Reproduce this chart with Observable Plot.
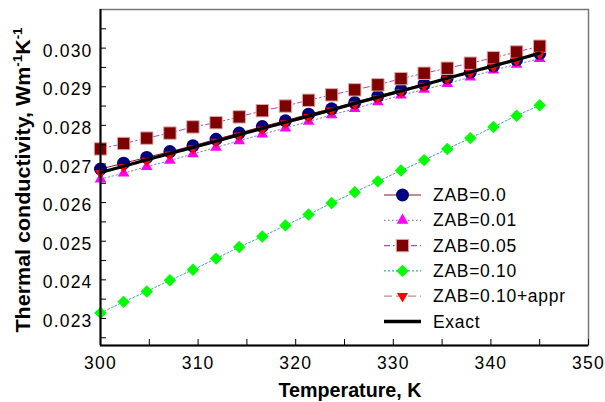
<!DOCTYPE html>
<html><head><meta charset="utf-8">
<script src="https://cdn.jsdelivr.net/npm/d3@7"></script>
<script src="https://cdn.jsdelivr.net/npm/@observablehq/plot@0.6"></script>
<style>
body{margin:0;background:#fff}
#chart{position:relative;width:605px;height:402px}
</style>
</head><body><div id="chart"></div>
<script>
// ---- data ----
const temperature = [300, 302.37, 304.74, 307.11, 309.47, 311.84, 314.21, 316.58, 318.95, 321.32,
                     323.68, 326.05, 328.42, 330.79, 333.16, 335.53, 337.89, 340.26, 342.63, 345];
const zab000 = [0.02687, 0.02702, 0.02717, 0.02732, 0.02747, 0.02764, 0.02780, 0.02797, 0.02812, 0.02829,
                0.02843, 0.02859, 0.02876, 0.02892, 0.02907, 0.02923, 0.02938, 0.02954, 0.02970, 0.02986];
const zab001 = [0.02661, 0.02676, 0.02693, 0.02709, 0.02726, 0.02743, 0.02760, 0.02777, 0.02793, 0.02810,
                0.02827, 0.02843, 0.02861, 0.02878, 0.02893, 0.02908, 0.02925, 0.02943, 0.02958, 0.02973];
const zab005 = [0.02739, 0.02753, 0.02767, 0.02780, 0.02796, 0.02807, 0.02822, 0.02838, 0.02850, 0.02865,
                0.02879, 0.02892, 0.02905, 0.02921, 0.02935, 0.02948, 0.02961, 0.02975, 0.02990, 0.03005];
const zab010 = [0.02314, 0.02343, 0.02370, 0.02399, 0.02426, 0.02455, 0.02485, 0.02512, 0.02541, 0.02569,
                0.02599, 0.02627, 0.02655, 0.02683, 0.02710, 0.02739, 0.02767, 0.02796, 0.02825, 0.02852];
const zab010appr = [0.02676, 0.02692, 0.02708, 0.02724, 0.02740, 0.02757, 0.02773, 0.02789, 0.02805, 0.02821,
                    0.02838, 0.02854, 0.02870, 0.02886, 0.02902, 0.02919, 0.02935, 0.02951, 0.02967, 0.02984];
const exact = [0.02678, 0.02694, 0.02711, 0.02727, 0.02743, 0.02759, 0.02776, 0.02792, 0.02808, 0.02824,
               0.02840, 0.02857, 0.02873, 0.02889, 0.02905, 0.02922, 0.02938, 0.02954, 0.02970, 0.02987];
const seriesNames = ["ZAB=0.0", "ZAB=0.01", "ZAB=0.05", "ZAB=0.10", "ZAB=0.10+appr", "Exact"];
const xTickLabels = [300, 310, 320, 330, 340, 350];
const xMinorTicks = [300, 305, 310, 315, 320, 325, 330, 335, 340, 345, 350];
const yTickLabels = [0.023, 0.024, 0.025, 0.026, 0.027, 0.028, 0.029, 0.030];
const yMinorTicks = [0.0225, 0.023, 0.0235, 0.024, 0.0245, 0.025, 0.0255, 0.026, 0.0265, 0.027,
                     0.0275, 0.028, 0.0285, 0.029, 0.0295, 0.030, 0.0305];
const xDomain = [300, 350];
const yDomain = [0.0223, 0.031];

// ---- styles ----
const triangleDown = {draw(context, size) {
  const y = Math.sqrt(size / (Math.sqrt(3) * 3));
  context.moveTo(0, 2 * y);
  context.lineTo(-Math.sqrt(3) * y, -y);
  context.lineTo(Math.sqrt(3) * y, -y);
  context.closePath();
}};
const seriesValues = [zab000, zab001, zab005, zab010, zab010appr];
const styles = [
  {line: "#8b1a1a", dash: null, fill: "#00007f", stroke: "none", symbol: "circle", r: 6.5},
  {line: "#7b7be0", dash: "1.5,2.5", fill: "#ff00ff", stroke: "none", symbol: "triangle", r: 4.3},
  {line: "#b04ab0", dash: "6,3,1.5,3", fill: "#7f0000", stroke: "#dcaaaa", symbol: "square", r: 7},
  {line: "#40a8a8", dash: "2,2", fill: "#00ff00", stroke: "none", symbol: "diamond2", r: 5.6},
  {line: "#c88888", dash: "8,4", fill: "#ff0000", stroke: "none", symbol: triangleDown, r: 4.1}
];
const drawOrder = [1, 0, 2, 3, 4];
const rowsOf = vals => temperature.map((t, i) => ({t, v: vals[i]}));

const seriesMarks = [];
for (const k of drawOrder) {
  const s = styles[k], rows = rowsOf(seriesValues[k]);
  seriesMarks.push(Plot.line(rows, {x: "t", y: "v", stroke: s.line, strokeWidth: 1, strokeDasharray: s.dash}));
  seriesMarks.push(Plot.dot(rows, {x: "t", y: "v", symbol: s.symbol, r: s.r, fill: s.fill, stroke: s.stroke, strokeWidth: 1}));
}
seriesMarks.push(Plot.line(rowsOf(exact), {x: "t", y: "v", stroke: "#000", strokeWidth: 3.2}));

const chart = Plot.plot({
  width: 605, height: 402,
  marginLeft: 100, marginRight: 17, marginTop: 9, marginBottom: 57,
  x: {domain: xDomain},
  y: {domain: yDomain},
  style: {fontFamily: "'Liberation Sans', Arial, sans-serif", fontSize: "17px", background: "#fff", color: "#000"},
  marks: [
    ...seriesMarks,
    Plot.frame({stroke: "#777", strokeWidth: 1.5}),
    Plot.ruleX([xDomain[0]], {stroke: "#000", strokeWidth: 2}),
    Plot.ruleY([yDomain[0]], {stroke: "#000", strokeWidth: 2}),
    Plot.ruleY(yMinorTicks, {insetRight: 482, stroke: "#000", strokeWidth: 1}),
    Plot.ruleX(xMinorTicks, {insetTop: 330, stroke: "#000", strokeWidth: 1}),
    Plot.axisX({ticks: xTickLabels, tickSize: 0, tickPadding: 11, label: null, tickFormat: d3.format("d")}),
    Plot.axisY({ticks: yTickLabels, tickSize: 0, tickPadding: 8, label: null, tickFormat: d3.format(".3f"), dy: 3})
  ]
});
document.getElementById("chart").appendChild(chart);

// ---- titles and legend ----
const svg = d3.select(chart);
const labelFont = "'Liberation Sans', Arial, sans-serif";
svg.selectAll('g[aria-label$="tick label"] text')
  .style("font-family", labelFont).style("font-size", "17.5px")
  .style("letter-spacing", "1.2px").style("font-variant-numeric", "normal");

const titleFont = "bold 21px 'Liberation Sans', Arial, sans-serif";
svg.append("text")
  .attr("x", 350).attr("y", 397).attr("text-anchor", "middle")
  .attr("textLength", 143).attr("lengthAdjust", "spacingAndGlyphs")
  .style("font", titleFont).style("letter-spacing", "0px").attr("fill", "#000")
  .text("Temperature, K");
const yt = svg.append("g").attr("transform", "translate(30,180) rotate(-90)")
  .append("text").attr("text-anchor", "middle")
  .attr("textLength", 305).attr("lengthAdjust", "spacingAndGlyphs")
  .style("font", titleFont).style("letter-spacing", "0px").attr("fill", "#000");
yt.append("tspan").text("Thermal conductivity, Wm");
yt.append("tspan").attr("dy", -8).style("font-size", "13px").text("-1");
yt.append("tspan").attr("dy", 8).text("K");
yt.append("tspan").attr("dy", -8).style("font-size", "13px").text("-1");

const symbolTypes = {circle: d3.symbolCircle, triangle: d3.symbolTriangle, square: d3.symbolSquare, diamond2: d3.symbolDiamond2};
const lg = svg.append("g");
seriesNames.forEach((name, i) => {
  const y = 195 + i * 25.3;
  if (i < 5) {
    const s = styles[i];
    lg.append("line").attr("x1", 384).attr("x2", 421).attr("y1", y).attr("y2", y)
      .attr("stroke", s.line).attr("stroke-width", 1.2).attr("stroke-dasharray", s.dash);
    const type = typeof s.symbol === "string" ? symbolTypes[s.symbol] : s.symbol;
    lg.append("path").attr("transform", `translate(402.5,${y})`)
      .attr("d", d3.symbol(type, s.r * s.r * Math.PI)())
      .attr("fill", s.fill).attr("stroke", s.stroke);
  } else {
    lg.append("line").attr("x1", 384).attr("x2", 421).attr("y1", y).attr("y2", y)
      .attr("stroke", "#000").attr("stroke-width", 3.5);
  }
  lg.append("text").attr("x", 433).attr("y", y + 6).attr("text-anchor", "start")
    .attr("fill", "#000").style("font-family", labelFont).style("font-size", "17.5px")
    .style("letter-spacing", "0.7px").text(name);
});
</script>
</body></html>
